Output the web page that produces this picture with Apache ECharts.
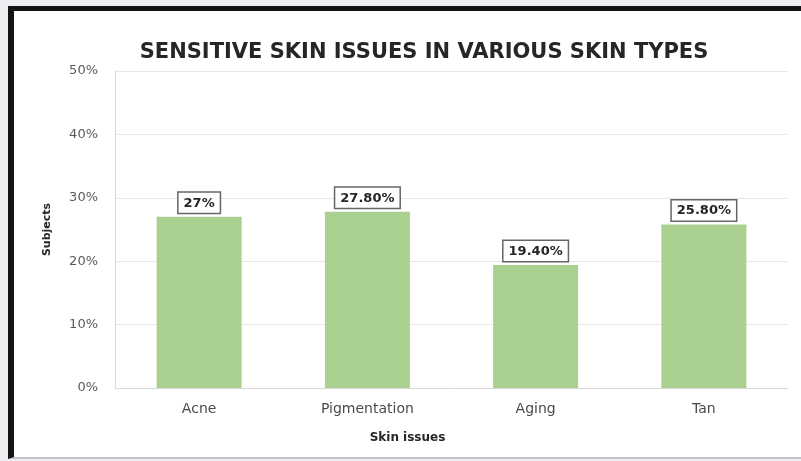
<!DOCTYPE html>
<html>
<head>
<meta charset="utf-8">
<script src="https://cdn.jsdelivr.net/npm/echarts@6/dist/echarts.min.js"></script>
<style>
  html, body { margin: 0; padding: 0; background: #eceef1; }
  #frame {
    position: absolute; left: 8px; top: 6px; width: 793px; height: 453px;
    box-sizing: border-box; background: #fff;
    border-left: 6px solid #141414; border-top: 5px solid #141414;
    border-bottom: 2px solid #c4c4c4;
  }
  #chart { position: absolute; left: 0; top: 0; width: 801px; height: 461px; }
</style>
</head>
<body>
<div id="frame"></div>
<div id="chart"></div>
<script>
// Share of subjects reporting each sensitive-skin issue (%)
const categories = ['Acne', 'Pigmentation', 'Aging', 'Tan'];
const values = [27, 27.8, 19.4, 25.8];
const yTicks = { min: 0, max: 50, interval: 10 };

const pct = v => (Number.isInteger(v) ? v : v.toFixed(2)) + '%';
const FONT = 'DejaVu Sans';

const chart = echarts.init(document.getElementById('chart'), null, { renderer: 'canvas' });
chart.setOption({
  backgroundColor: 'transparent',
  animation: false,
  title: {
    text: 'SENSITIVE SKIN ISSUES IN VARIOUS SKIN TYPES',
    left: 419, top: 37, textAlign: 'center',
    textStyle: { fontFamily: FONT, fontWeight: 'bold', fontSize: 21, color: '#262626' }
  },
  grid: { left: 115, right: 13, top: 71, bottom: 73 },
  xAxis: {
    type: 'category',
    data: categories,
    name: 'Skin issues',
    nameLocation: 'middle',
    nameGap: 44,
    nameTextStyle: { fontFamily: FONT, fontWeight: 'bold', fontSize: 12, color: '#262626', padding: [0, 88, 0, 0] },
    axisLine: { lineStyle: { color: '#d9d9d9' } },
    axisTick: { show: false },
    axisLabel: { fontFamily: FONT, fontSize: 14, color: '#4a4a4a', margin: 14 }
  },
  yAxis: {
    type: 'value',
    min: yTicks.min, max: yTicks.max, interval: yTicks.interval,
    name: 'Subjects',
    nameLocation: 'middle',
    nameRotate: 90,
    nameGap: 62,
    nameTextStyle: { fontFamily: FONT, fontWeight: 'bold', fontSize: 11, color: '#262626' },
    axisLine: { show: true, lineStyle: { color: '#d9d9d9' } },
    axisTick: { show: false },
    splitLine: { lineStyle: { color: '#e6e6e6' } },
    axisLabel: { formatter: '{value}%', fontFamily: FONT, fontSize: 13, color: '#595959', margin: 17 }
  },
  series: [{
    type: 'bar',
    data: values,
    barWidth: 85,
    itemStyle: { color: '#a9d08e' },
    label: {
      show: true,
      position: 'top',
      distance: 4,
      formatter: p => pct(p.value),
      fontFamily: FONT, fontWeight: 'bold', fontSize: 13, color: '#262626',
      backgroundColor: '#fff',
      borderColor: '#666', borderWidth: 1.5,
      padding: [4, 5, 3, 5]
    }
  }]
});
</script>
</body>
</html>
